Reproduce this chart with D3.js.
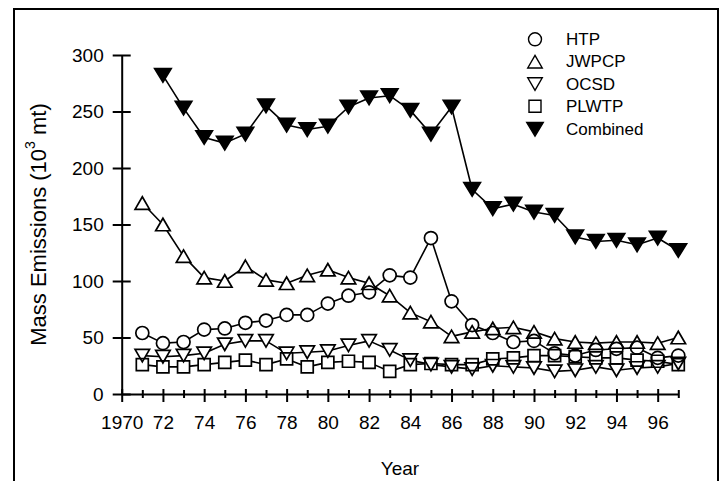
<!DOCTYPE html>
<html>
<head>
<meta charset="utf-8">
<script src="https://cdn.jsdelivr.net/npm/d3@7"></script>
<style>
  body { margin: 0; background: #fff; }
  svg { display: block; }
  text { font-family: Arial, "Liberation Sans", Helvetica, sans-serif; fill: #000; }
</style>
</head>
<body>
<svg id="chart" width="725" height="481"></svg>
<script>
// Annual mass emissions (10^3 metric tons) by treatment plant
const years = d3.range(1971, 1998);
const yearsCombined = d3.range(1972, 1998);

const htp   = [54, 45, 46, 57, 58, 63, 65, 70, 70, 80, 87, 90, 105, 103, 138, 82, 61, 54, 46, 47, 36, 34, 39, 40, 41, 32, 34];
const jwpcp = [169, 150, 122, 103, 100, 113, 101, 98, 105, 110, 103, 98, 87, 72, 64, 51, 55, 58, 59, 55, 49, 46, 45, 46, 46, 45, 50];
const ocsd  = [34, 33, 34, 36, 44, 47, 47, 36, 37, 38, 43, 47, 39, 30, 26, 24, 22, 25, 24, 23, 20, 21, 24, 21, 23, 24, 27];
const plwtp = [26, 24, 24, 26, 28, 30, 26, 31, 24, 28, 29, 28, 20, 26, 27, 26, 26, 31, 32, 34, 34, 33, 32, 32, 30, 29, 26];
const combined = [282, 253, 227, 222, 230, 255, 238, 234, 237, 254, 262, 264, 251, 230, 254, 181, 164, 168, 161, 158, 139, 135, 136, 132, 138, 127];

const seriesNames = ["HTP", "JWPCP", "OCSD", "PLWTP", "Combined"];
const markerTypes = ["circle", "triangleUp", "triangleDown", "square", "triangleDownFilled"];

const yTickValues = [0, 50, 100, 150, 200, 250, 300];
const xTickValues = d3.range(1970, 1998);
const xTickLabels = ["1970", "72", "74", "76", "78", "80", "82", "84", "86", "88", "90", "92", "94", "96"];

const svg = d3.select("#chart");

// outer frame
svg.append("rect")
  .attr("x", 14).attr("y", 9)
  .attr("width", 704).attr("height", 490)
  .attr("fill", "none").attr("stroke", "#000").attr("stroke-width", 2);

const x = d3.scaleLinear().domain([1970, 1997]).range([121.7, 678.3]);
const y = d3.scaleLinear().domain([0, 300]).range([394, 55]);

// marker outlines
function markerPath(type) {
  switch (type) {
    case "triangleUp": {
      const w = 14.5, h = 12.5;
      return `M0,${-h / 2}L${w / 2},${h / 2}L${-w / 2},${h / 2}Z`;
    }
    case "triangleDown": {
      const w = 14.5, h = 12.5;
      return `M${-w / 2},${-h / 2}L${w / 2},${-h / 2}L0,${h / 2}Z`;
    }
    case "triangleDownFilled": {
      const w = 16.5, h = 13.5;
      return `M${-w / 2},${-h / 2}L${w / 2},${-h / 2}L0,${h / 2}Z`;
    }
    case "square": {
      const s = 12;
      return `M${-s / 2},${-s / 2}h${s}v${s}h${-s}Z`;
    }
    default:
      return d3.arc()({ innerRadius: 0, outerRadius: 6.5, startAngle: 0, endAngle: 2 * Math.PI });
  }
}

// axes
const yAxis = d3.axisLeft(y)
  .tickValues(yTickValues)
  .tickSize(9)
  .tickSizeOuter(0)
  .tickPadding(9)
  .tickFormat(d3.format("d"));

const gy = svg.append("g").attr("transform", `translate(${x(1970)},0)`).call(yAxis);
gy.selectAll(".tick line").attr("x1", 9);
gy.selectAll(".tick text").style("font-size", "19px");

const labelFor = d => {
  const i = (d - 1970) / 2;
  return Number.isInteger(i) ? xTickLabels[i] : "";
};

const xAxis = d3.axisBottom(x)
  .tickValues(xTickValues)
  .tickSize(8)
  .tickSizeOuter(0)
  .tickPadding(13.5)
  .tickFormat(labelFor);

const gx = svg.append("g").attr("transform", `translate(0,${y(0)})`).call(xAxis);
gx.selectAll(".tick line")
  .attr("y1", d => (d % 2 === 0 ? -5 : -4))
  .attr("y2", d => (d % 2 === 0 ? 8 : 4));
gx.selectAll(".tick text").style("font-size", "19px");

[gx, gy].forEach(g => {
  g.selectAll("path.domain, .tick line").attr("stroke", "#000").attr("stroke-width", 2);
});

// axis titles
svg.append("text")
  .attr("x", x(1983.5)).attr("y", 475)
  .attr("text-anchor", "middle")
  .style("font-size", "19px")
  .text("Year");

const yTitle = svg.append("text")
  .attr("transform", `translate(38,${(y(0) + y(300)) / 2}) rotate(-90)`)
  .attr("text-anchor", "middle")
  .attr("dominant-baseline", "central")
  .style("font-size", "22px");
yTitle.append("tspan").text("Mass Emissions (10");
yTitle.append("tspan").attr("dy", -8).style("font-size", "14px").text("3");
yTitle.append("tspan").attr("dy", 8).text(" mt)");

// series
const series = [
  { name: seriesNames[0], type: markerTypes[0], years: years, values: htp },
  { name: seriesNames[1], type: markerTypes[1], years: years, values: jwpcp },
  { name: seriesNames[2], type: markerTypes[2], years: years, values: ocsd },
  { name: seriesNames[3], type: markerTypes[3], years: years, values: plwtp },
  { name: seriesNames[4], type: markerTypes[4], years: yearsCombined, values: combined }
];

const line = d3.line().x(d => x(d[0])).y(d => y(d[1]));

const plot = svg.append("g");

series.forEach(s => {
  const pts = s.years.map((yr, i) => [yr, s.values[i]]);
  plot.append("path")
    .datum(pts)
    .attr("d", line)
    .attr("fill", "none")
    .attr("stroke", "#000")
    .attr("stroke-width", 1.6)
    .attr("stroke-linejoin", "round");
});

// white backing so lines stop at symbol edges
series.forEach(s => {
  const pts = s.years.map((yr, i) => [yr, s.values[i]]);
  plot.append("g").selectAll("path")
    .data(pts).join("path")
    .attr("transform", d => `translate(${x(d[0])},${y(d[1])})`)
    .attr("d", markerPath(s.type))
    .attr("fill", s.type === "triangleDownFilled" ? "#000" : "#fff")
    .attr("stroke", "none");
});

series.forEach(s => {
  const pts = s.years.map((yr, i) => [yr, s.values[i]]);
  plot.append("g").selectAll("path")
    .data(pts).join("path")
    .attr("transform", d => `translate(${x(d[0])},${y(d[1])})`)
    .attr("d", markerPath(s.type))
    .attr("fill", "none")
    .attr("stroke", "#000")
    .attr("stroke-width", 1.7)
    .attr("stroke-linejoin", "miter");
});

// legend
const legendRows = [39.3, 61.7, 84, 106.3, 129.3];
const legend = svg.append("g");
series.forEach((s, i) => {
  const row = legend.append("g").attr("transform", `translate(535,${legendRows[i]})`);
  row.append("path")
    .attr("d", markerPath(s.type))
    .attr("fill", s.type === "triangleDownFilled" ? "#000" : "#fff")
    .attr("stroke", "#000")
    .attr("stroke-width", 1.4);
  row.append("text")
    .attr("x", 31)
    .attr("dominant-baseline", "central")
    .style("font-size", "17px")
    .text(s.name);
});
</script>
</body>
</html>
